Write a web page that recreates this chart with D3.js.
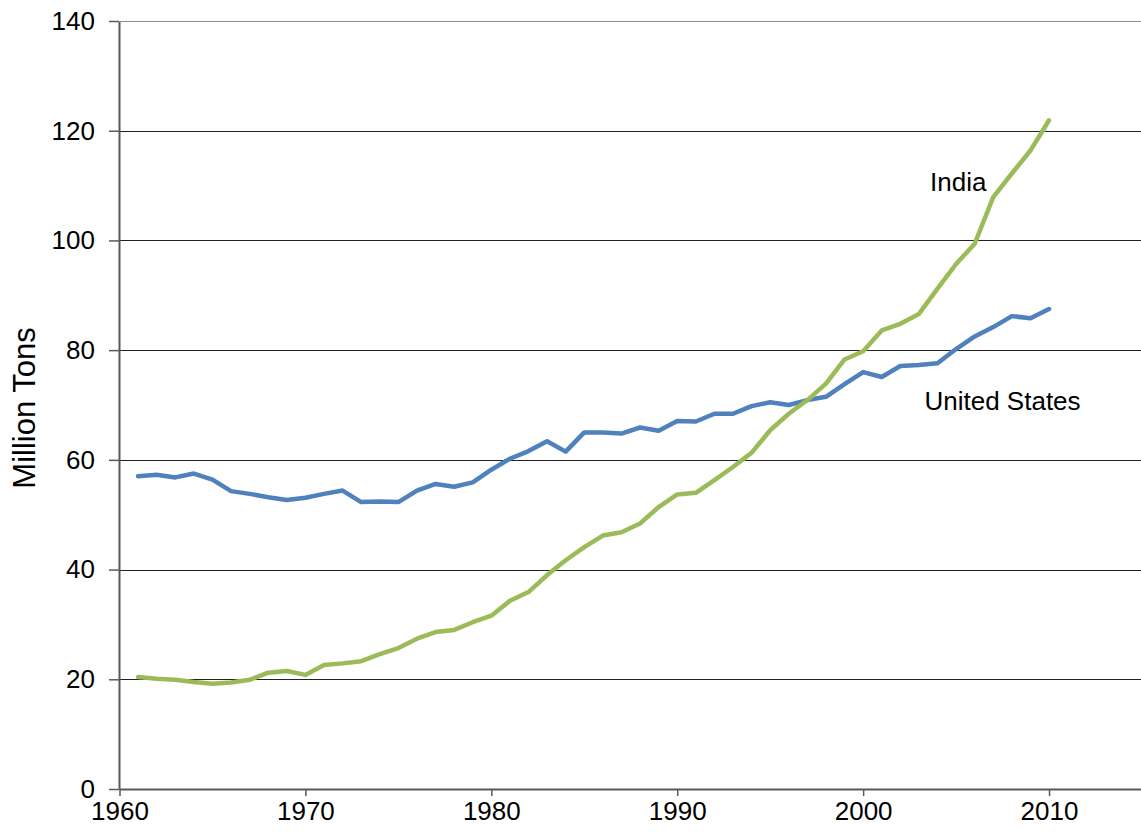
<!DOCTYPE html>
<html>
<head>
<meta charset="utf-8">
<script src="https://cdn.jsdelivr.net/npm/d3@7"></script>
<style>
  body { margin: 0; background: #fff; }
  svg { display: block; font-family: "Liberation Sans", Arial, sans-serif; }
</style>
</head>
<body>
<div id="plot"></div>
<script>
var years = d3.range(1961, 2011);

var usValues = [57.0, 57.3, 56.8, 57.5, 56.4, 54.3, 53.8, 53.2, 52.7, 53.1,
                53.8, 54.4, 52.3, 52.4, 52.3, 54.4, 55.6, 55.1, 55.9, 58.2,
                60.2, 61.6, 63.4, 61.5, 65.0, 65.0, 64.8, 65.9, 65.3, 67.1,
                67.0, 68.4, 68.4, 69.8, 70.5, 70.0, 70.9, 71.5, 73.8, 76.0,
                75.1, 77.1, 77.3, 77.6, 80.2, 82.5, 84.2, 86.2, 85.8, 87.5];

var indiaValues = [20.4, 20.1, 19.9, 19.5, 19.2, 19.4, 19.9, 21.2, 21.5, 20.8,
                   22.6, 22.9, 23.3, 24.6, 25.7, 27.4, 28.6, 29.0, 30.4, 31.6,
                   34.3, 35.9, 39.0, 41.7, 44.1, 46.2, 46.8, 48.4, 51.4, 53.7,
                   54.0, 56.3, 58.7, 61.3, 65.4, 68.4, 70.9, 73.9, 78.3, 79.8,
                   83.6, 84.8, 86.6, 91.2, 95.7, 99.4, 107.9, 112.2, 116.4, 121.9];

var xTicks = [1960, 1970, 1980, 1990, 2000, 2010];
var yTicks = [0, 20, 40, 60, 80, 100, 120, 140];

var width = 1141, height = 840;

var svg = d3.select("#plot").append("svg")
    .attr("width", width)
    .attr("height", height);

var xScale = d3.scaleLinear()
    .domain([1960, 2015])
    .range([119.5, 1142]);

var yScale = d3.scaleLinear()
    .domain([0, 140])
    .range([789, 21]);

// gridlines
svg.append("g")
  .selectAll("line")
  .data(yTicks.filter(d => d > 0))
  .join("line")
    .attr("x1", 120)
    .attr("x2", width)
    .attr("y1", d => Math.round(yScale(d)) + 0.5)
    .attr("y2", d => Math.round(yScale(d)) + 0.5)
    .attr("stroke", d => d === 140 ? "#8c8c8c" : "#222")
    .attr("stroke-width", 1);

var yAxis = d3.axisLeft(yScale)
    .tickValues(yTicks)
    .tickSize(10)
    .tickPadding(14)
    .tickSizeOuter(0);

var gY = svg.append("g")
    .attr("transform", "translate(119,0)")
    .call(yAxis);

var xAxis = d3.axisBottom(xScale)
    .tickValues(xTicks)
    .tickFormat(d3.format("d"))
    .tickSize(7)
    .tickPadding(6)
    .tickSizeOuter(0);

var gX = svg.append("g")
    .attr("transform", "translate(0,789)")
    .call(xAxis);

[gX, gY].forEach(function(g) {
  g.select(".domain").attr("stroke", "#595959").attr("stroke-width", 2);
  g.selectAll(".tick line").attr("stroke", "#595959").attr("stroke-width", 1.5);
  g.selectAll(".tick text")
    .attr("fill", "#000")
    .attr("font-size", 26)
    .attr("font-family", "Liberation Sans, Arial, sans-serif");
});

// y axis title
svg.append("text")
    .attr("transform", "translate(35,408) rotate(-90)")
    .attr("text-anchor", "middle")
    .attr("font-size", 31)
    .attr("fill", "#000")
    .text("Million Tons");

var line = d3.line()
    .x((d, i) => xScale(years[i]))
    .y(d => yScale(d));

svg.append("path")
    .attr("d", line(usValues))
    .attr("fill", "none")
    .attr("stroke", "#4f81bd")
    .attr("stroke-width", 4.5)
    .attr("stroke-linejoin", "round")
    .attr("stroke-linecap", "round");

svg.append("path")
    .attr("d", line(indiaValues))
    .attr("fill", "none")
    .attr("stroke", "#9bbb59")
    .attr("stroke-width", 4.5)
    .attr("stroke-linejoin", "round")
    .attr("stroke-linecap", "round");

// series labels
svg.append("text")
    .attr("x", xScale(2003.6))
    .attr("y", yScale(109.0))
    .attr("font-size", 26)
    .attr("fill", "#000")
    .text("India");

svg.append("text")
    .attr("x", xScale(2003.3))
    .attr("y", yScale(69.1))
    .attr("font-size", 26)
    .attr("fill", "#000")
    .text("United States");
</script>
</body>
</html>
